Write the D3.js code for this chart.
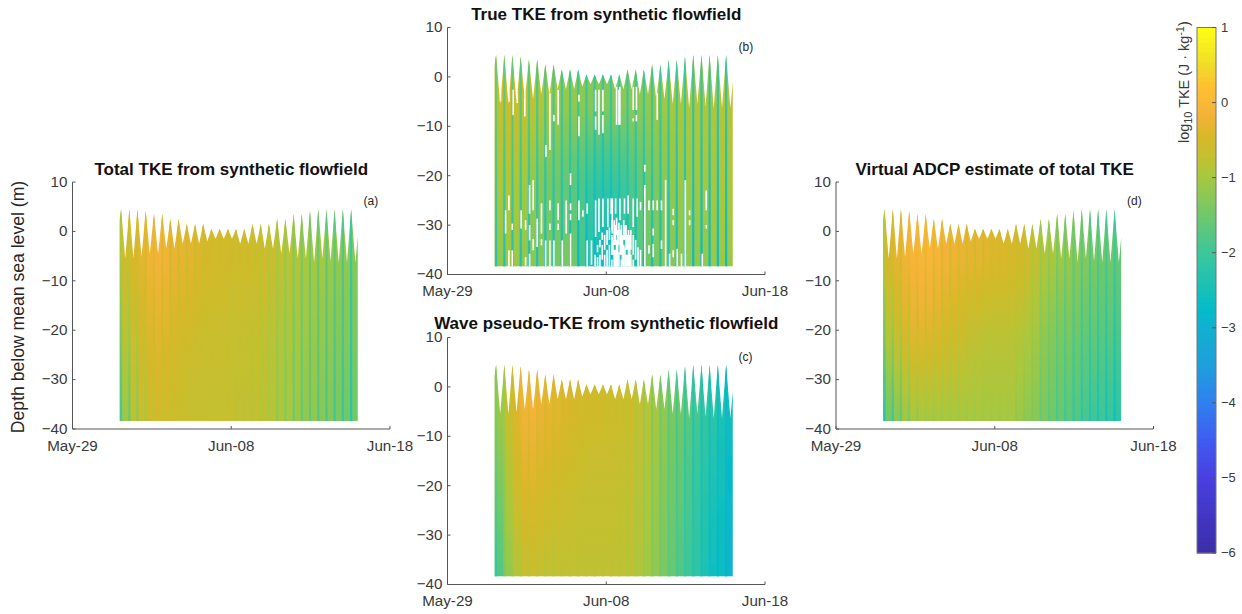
<!DOCTYPE html>
<html lang="en">
<head>
<meta charset="utf-8">
<title>TKE from synthetic flowfield</title>
<script src="https://d3js.org/d3.v7.min.js"></script>
<style type="text/css">
	body { margin: 0; background: #fff; }
	text { font-family: "Liberation Sans", Arial, sans-serif; fill: #262626; }
	.title { font-weight: bold; font-size: 17px; fill: #111; text-anchor: middle; }
	.tag { font-size: 12px; }
	.axis text { font-family: "Liberation Sans", Arial, sans-serif; font-size: 15.2px; fill: #3a3a3a; }
	.axis path, .axis line { stroke: #555; stroke-width: 1; }
	.cbar text { font-size: 12.5px; fill: #3a3a3a; }
</style>
</head>
<body>
<script type="text/javascript">
// days after May-29
var xTickDays = [0, 10, 20];
var xTickLabels = ["May-29", "Jun-08", "Jun-18"];
var yTicks = [10, 0, -10, -20, -30, -40];
var cbarTicks = [1, 0, -1, -2, -3, -4, -5, -6];

// tide: high water times, the elevation at high and low water
var startDay = 2.95, endDay = 17.97, startLevel = 2, endLevel = -1, floorDepth = -38.4, lastLowDay = 17.82;
var highDays = [3.06,3.58,4.09,4.61,5.13,5.65,6.16,6.68,7.20,7.72,8.23,8.75,9.27,9.79,10.30,10.82,11.34,11.86,12.37,12.89,13.41,13.93,14.44,14.96,15.48,16.00,16.51,17.03,17.55];
var highLevels = [4.5,4.5,4.5,4.2,3.5,3.5,2.5,2.5,1.5,1.5,1.5,0.5,0.5,0.5,0.5,0.5,1.5,1.5,1.5,2.5,2.5,3.5,3.5,4.2,4.5,4.5,4.5,4.5,4.5];
var lowLevels = [-5.5,-5.5,-5.2,-4.6,-4.5,-3.5,-3.5,-2.5,-2.5,-2.5,-2,-1.5,-1.5,-1.5,-2.5,-2.5,-2.5,-3.5,-3.5,-4.5,-4.5,-5.5,-5.5,-6.3,-5.5,-6,-6.3,-6.3,-6.3];

// log10 TKE: the wide strip after each high water at -5, -20 and the floor
var aWideTop = [-.6,-.4,-.3,-.2,-.15,-.2,-.25,-.3,-.35,-.4,-.45,-.5,-.5,-.55,-.55,-.55,-.6,-.6,-.65,-.75,-.8,-.9,-.95,-1,-1,-1.1,-1.2,-1.2,-1.3];
var aWideMid = [-.8,-.6,-.5,-.4,-.35,-.4,-.45,-.5,-.55,-.6,-.65,-.65,-.65,-.7,-.7,-.7,-.7,-.75,-.8,-.9,-.95,-1,-1.05,-1.1,-1.15,-1.2,-1.3,-1.3,-1.4];
var aWideBot = [-1.1,-.8,-.7,-.55,-.5,-.55,-.6,-.65,-.7,-.7,-.7,-.7,-.7,-.7,-.75,-.75,-.75,-.8,-.85,-.95,-1,-1.1,-1.2,-1.2,-1.3,-1.3,-1.4,-1.5,-1.5];
// and the narrow strip at high water, at -5 and the floor
var aPeakTop = [-.9,-.7,-.6,-.4,-.3,-.35,-.45,-.5,-.55,-.55,-.6,-.6,-.6,-.65,-.65,-.65,-.7,-.75,-.85,-1,-1.1,-1.3,-1.4,-1.5,-1.6,-1.7,-1.7,-1.8,-2];
var aPeakBot = [-1.9,-1.6,-1.3,-1,-.8,-.75,-.75,-.75,-.75,-.75,-.75,-.75,-.75,-.75,-.8,-.8,-.85,-.9,-1,-1.2,-1.3,-1.5,-1.6,-1.7,-1.8,-1.9,-2,-2.1,-2.2];

var bWideTop = [-.7,-.65,-.65,-.7,-.75,-.85,-.9,-1,-1.1,-1.15,-1.2,-1.25,-1.3,-1.3,-1.25,-1.2,-1.2,-1.2,-1.15,-1.1,-1.05,-1,-1,-.95,-.9,-.9,-.9,-.85,-.85];
var bWideMid = [-.9,-.9,-.95,-1.05,-1.2,-1.35,-1.45,-1.55,-1.65,-1.75,-1.85,-2,-2.1,-2.1,-2,-1.95,-1.8,-1.65,-1.5,-1.4,-1.3,-1.2,-1.1,-1.05,-1.05,-1,-1,-.95,-.95];
var bWideBot = [-1.2,-1.1,-1.1,-1.2,-1.3,-1.3,-1.4,-1.4,-1.4,-1.5,-1.9,-2.3,-2.5,-2.6,-2.5,-2.2,-1.9,-1.7,-1.5,-1.4,-1.3,-1.3,-1.25,-1.2,-1.2,-1.2,-1.1,-1.1,-1.1];
var bPeakTop = [-1.5,-1.6,-1.6,-1.7,-1.7,-1.8,-1.9,-1.9,-2,-2,-2,-2,-2.1,-2.1,-2,-2,-2,-2,-2,-2,-2,-2,-2,-2,-2.1,-2.1,-2.1,-2.1,-2.1];
var bPeakBot = [-2.3,-2.4,-2.4,-2.4,-2.4,-2.4,-2.5,-2.5,-2.5,-2.6,-2.8,-2.9,-2.9,-2.9,-2.9,-2.8,-2.7,-2.6,-2.6,-2.5,-2.5,-2.5,-2.5,-2.5,-2.7,-2.7,-2.7,-2.7,-2.6];

var cWideTop = [-1.1,-.7,-.4,-.2,-.15,-.25,-.3,-.35,-.4,-.45,-.5,-.55,-.55,-.6,-.6,-.6,-.6,-.7,-.85,-1,-1.2,-1.4,-1.5,-1.7,-1.9,-2.1,-2.2,-2.4,-2.6];
var cWideMid = [-1.4,-.9,-.6,-.4,-.4,-.45,-.5,-.55,-.6,-.65,-.7,-.7,-.7,-.7,-.7,-.7,-.7,-.8,-.95,-1.1,-1.3,-1.5,-1.65,-1.85,-2.05,-2.25,-2.4,-2.55,-2.8];
var cWideBot = [-1.8,-1.2,-.9,-.7,-.65,-.7,-.75,-.75,-.75,-.75,-.75,-.75,-.75,-.75,-.75,-.75,-.8,-.9,-1.05,-1.2,-1.4,-1.6,-1.8,-2,-2.2,-2.4,-2.6,-2.7,-2.9];
var cPeakTop = [-1.3,-1,-.6,-.3,-.3,-.35,-.4,-.45,-.5,-.55,-.6,-.6,-.6,-.6,-.65,-.7,-.75,-.9,-1.1,-1.3,-1.5,-1.7,-1.9,-2.1,-2.3,-2.4,-2.5,-2.6,-2.8];
var cPeakBot = [-2.1,-1.4,-1.1,-.9,-.8,-.8,-.85,-.85,-.8,-.8,-.8,-.8,-.8,-.8,-.8,-.85,-.9,-1,-1.1,-1.3,-1.5,-1.7,-1.9,-2.1,-2.3,-2.5,-2.7,-2.8,-3];

var dWideTop = [-.5,-.3,-.2,-.1,-.05,-.05,-.1,-.15,-.2,-.25,-.3,-.3,-.35,-.4,-.4,-.45,-.5,-.6,-.7,-.85,-.95,-1.05,-1.15,-1.25,-1.3,-1.4,-1.5,-1.5,-1.6];
var dWideMid = [-.8,-.6,-.4,-.3,-.3,-.35,-.4,-.5,-.55,-.6,-.7,-.75,-.8,-.8,-.8,-.8,-.85,-.9,-1,-1.2,-1.3,-1.4,-1.4,-1.5,-1.6,-1.6,-1.7,-1.7,-1.8];
var dWideBot = [-1.5,-1.3,-1.1,-1,-1,-1,-1,-1,-1,-1,-1,-1,-1,-1,-1,-1,-1.1,-1.2,-1.3,-1.4,-1.5,-1.6,-1.7,-1.8,-1.9,-2,-2,-2.1,-2.2];
var dPeakTop = [-.8,-.5,-.4,-.2,-.15,-.2,-.3,-.35,-.4,-.4,-.45,-.5,-.5,-.5,-.5,-.55,-.6,-.7,-.9,-1.1,-1.2,-1.4,-1.5,-1.6,-1.7,-1.8,-1.8,-1.9,-2];
var dPeakBot = [-2.3,-2,-1.7,-1.4,-1.2,-1.1,-1.1,-1.1,-1.1,-1.1,-1.1,-1.1,-1.1,-1.1,-1.1,-1.1,-1.2,-1.3,-1.4,-1.6,-1.7,-1.9,-2,-2.1,-2.2,-2.3,-2.4,-2.5,-2.6];

// missing data in panel b: [day, upper depth, lower depth]
var bGaps = [
	[3.34,-2.6,-5],[3.87,-2.6,-5],[4.14,-2.6,-7.7],[4.39,-2.6,-5.3],[4.87,-2.6,-8],
	[6.45,-3.3,-14.8],[6.2,-13.8,-16.2],[6.7,-7.7,-9],[6.97,-2.6,-9.7],[8.28,-3.6,-5],[8.28,-8,-12],
	[9.33,-2.6,-7],[9.33,-8,-10.7],[9.54,-2.6,-11.7],[9.79,-2.6,-7],[9.79,-7.7,-11.4],[10.8,-2.6,-9.7],
	[10.65,-2,-9.7],[10.86,-2,-9.7],[11.7,-2,-6.7],[11.7,-8.4,-9],[11.9,-2,-6.7],[11.9,-7.7,-9],[12.43,-17.8,-19.2],[13.21,-3.3,-8.7],
	[3.87,-24,-27],[3.66,-27,-31.7],[4.08,-29.7,-31],[3.87,-35.1,-38.5],[4.08,-35.1,-38.5],[4.64,-27,-30.7],[4.92,-29,-31],[4.92,-36.5,-38.2],
	[5.17,-21.9,-27.7],[5.17,-30,-33.1],[5.17,-35.8,-38.5],[5.40,-20.9,-27],[5.40,-32.8,-35.1],[5.65,-28.7,-32.8],[5.65,-32.8,-34.4],
	[5.92,-25.6,-31.7],[5.92,-32.8,-34.1],[6.18,-33.1,-38.5],[6.45,-25,-27],[6.45,-29.7,-31],[6.45,-33.1,-38.5],[6.70,-33.1,-38.5],
	[6.97,-25.6,-29],[6.97,-29.7,-31],[7.23,-33.1,-38.5],[7.48,-25,-31.7],[7.75,-19.5,-21.9],[7.75,-25.6,-27],[7.75,-27.7,-29],[7.75,-31.7,-38.5],
	[8.28,-25,-29],[8.53,-27,-28.3],[8.80,-25.6,-27.7],[8.80,-33.1,-38.5],[9.07,-33.1,-38],
	[9.33,-25,-32.4],[9.54,-24.6,-31.4],[9.79,-24.6,-30.4],[10.1,-24.6,-30.4],[10.31,-24.6,-27.7],[10.59,-24.6,-27.7],
	[10.38,-24.6,-31.7],[10.38,-32.4,-35.1],[10.86,-24.6,-29],[11.15,-24.6,-27.7],[11.38,-24,-27.7],[11.7,-24.6,-30.4],[11.95,-24.6,-28.3],[12.16,-25.3,-27],
	[12.43,-21.9,-38.5],[12.69,-25,-27],[12.69,-34.1,-35.8],[12.96,-25,-27],[12.96,-30.7,-32.1],[12.96,-33.8,-36.5],[13.21,-25,-27],[13.48,-25,-27],[13.48,-33.1,-34.8],
	[13.74,-20.9,-38.5],[13.99,-35.8,-38.5],[14.22,-26.7,-28],[14.22,-29,-30],[14.22,-35.1,-36.5],[14.47,-34.8,-38.5],[14.74,-35.8,-38.5],
	[14.98,-20.9,-38.5],[15.25,-27,-28],[15.25,-29,-30],[16.05,-35.8,-38.5],[16.3,-23,-27],[16.3,-30,-30.7],
	[9.3,-36,-38.5],[9.45,-34,-35.5],[9.45,-36.5,-38.5],[9.6,-33,-34.5],[9.6,-36,-38.5],[9.75,-31.5,-33],[9.75,-34,-37],[9.9,-32,-35],[9.9,-36,-38.5],
	[10.05,-31,-34],[10.05,-35,-38.5],[10.2,-30.5,-33],[10.2,-34,-38.5],[10.35,-29,-31],[10.35,-32,-36],[10.35,-37,-38.5],[10.5,-29,-34],[10.5,-35,-38.5],
	[10.65,-28.5,-32],[10.65,-33,-38.5],[10.8,-29.5,-34],[10.8,-35.5,-38.5],[10.95,-30,-36],[10.95,-37,-38.5],[11.1,-29,-33],[11.1,-34,-38.5],
	[11.25,-30,-35],[11.25,-36,-38.5],[11.4,-31,-38.5],[11.55,-31,-35],[11.55,-36,-38.5],[11.7,-32,-36],[11.7,-37,-38.5],[11.85,-33,-37],[12,-34.5,-38.5],[12.16,-35,-38.5],
	[10.42,-33,-36],[10.58,-30,-34],[10.58,-35,-38.5],[10.72,-31,-38.5],[10.88,-31,-36],[11.02,-32,-38.5],[11.18,-30,-33],[11.18,-34.5,-38.5],[11.32,-32,-35],[11.32,-36,-38.5],[11.48,-32,-38.5]
];

// colormap stops
var cmapValues = [-6, -5, -4.5, -4, -3.5, -3, -2.75, -2, -1.5, -1, -0.7, -0.45, -0.15, 0.2, 0.5, 1];
var cmapColors = ["#3a2ea8", "#4a3fe0", "#3f5cf0", "#2f80f0", "#1f9fdc", "#10b0d0", "#04bcc8", "#3cc79a", "#70c86a", "#a6c840", "#c6bf2e", "#d8b72a", "#f5b338", "#fec030", "#f0dc28", "#fffe14"];

var color = d3.scaleLinear().domain(cmapValues).range(cmapColors).clamp(true);

var panelW = 317.5, panelH = 247;
var panels = [
	{id: "a", title: "Total TKE from synthetic flowfield", left: 72.5, top: 182, titleY: 175, wide: [aWideTop, aWideMid, aWideBot], peak: [aPeakTop, aPeakBot], gaps: []},
	{id: "b", title: "True TKE from synthetic flowfield", left: 447.5, top: 27.5, titleY: 20, wide: [bWideTop, bWideMid, bWideBot], peak: [bPeakTop, bPeakBot], gaps: bGaps},
	{id: "c", title: "Wave pseudo-TKE from synthetic flowfield", left: 447.5, top: 337.5, titleY: 329, wide: [cWideTop, cWideMid, cWideBot], peak: [cPeakTop, cPeakBot], gaps: []},
	{id: "d", title: "Virtual ADCP estimate of total TKE", left: 836, top: 182, titleY: 175, wide: [dWideTop, dWideMid, dWideBot], peak: [dPeakTop, dPeakBot], gaps: []}
];

var svg = d3.select("body").append("svg").attr("width", 1242).attr("height", 614);
var defs = svg.append("defs");

defs.append("filter").attr("id", "soft")
	.attr("filterUnits", "userSpaceOnUse")
	.attr("x", 0).attr("y", 0).attr("width", 1242).attr("height", 614)
	.append("feGaussianBlur").attr("stdDeviation", 0.7);

var x = d3.scaleLinear().domain([0, 20]).range([0, panelW]);
var y = d3.scaleLinear().domain([-40, 10]).range([panelH, 0]);

// outline of the water column: the surface goes up and down with the tide
var surface = [{d: startDay, v: startLevel}];
highDays.forEach(function(d, i) {
	surface.push({d: d, v: highLevels[i]});
	surface.push({d: i < highDays.length - 1 ? (d + highDays[i + 1]) / 2 : lastLowDay, v: lowLevels[i]});
});
surface.push({d: endDay, v: endLevel});

var area = d3.area()
	.x(function(p) { return x(p.d); })
	.y0(y(floorDepth))
	.y1(function(p) { return y(p.v); });

var wideEdges = [startDay].concat(highDays.slice(1), [endDay]);

function addGradient(id, depths, values) {
	var pick = d3.scaleLinear().domain(depths).range(values).clamp(true);
	var depthScale = d3.scaleLinear().domain([0, 8]).range([5, floorDepth]);
	var grad = defs.append("linearGradient")
		.attr("id", id)
		.attr("gradientUnits", "userSpaceOnUse")
		.attr("x1", 0).attr("x2", 0)
		.attr("y1", y(5)).attr("y2", y(floorDepth));
	d3.range(9).forEach(function(i) {
		grad.append("stop")
			.attr("offset", i / 8)
			.attr("stop-color", color(pick(depthScale(i))));
	});
}

panels.forEach(function(p) {
	var g = svg.append("g").attr("transform", "translate(" + p.left + "," + p.top + ")");

	defs.append("clipPath").attr("id", "water-" + p.id)
		.append("path").attr("d", area(surface));

	var marks = g.append("g").attr("filter", "url(#soft)")
		.append("g").attr("clip-path", "url(#water-" + p.id + ")");

	// wide strips
	marks.selectAll("rect.wide")
		.data(highDays)
		.enter()
		.append("rect")
		.attr("class", "wide")
		.attr("x", function(d, i) { return x(wideEdges[i]); })
		.attr("width", function(d, i) { return x(wideEdges[i + 1]) - x(wideEdges[i]) + 0.3; })
		.attr("y", y(10))
		.attr("height", y(floorDepth) - y(10))
		.attr("fill", function(d, i) {
			var id = "w" + p.id + i;
			addGradient(id, [-5, -20, -38.4], [p.wide[0][i], p.wide[1][i], p.wide[2][i]]);
			return "url(#" + id + ")";
		});

	// narrow strips at high water
	marks.selectAll("rect.peak")
		.data(highDays)
		.enter()
		.append("rect")
		.attr("class", "peak")
		.attr("x", function(d) { return x(d) - 1.1; })
		.attr("width", 2.2)
		.attr("y", y(10))
		.attr("height", y(floorDepth) - y(10))
		.attr("fill", function(d, i) {
			var id = "p" + p.id + i;
			addGradient(id, [-5, -38.4], [p.peak[0][i], p.peak[1][i]]);
			return "url(#" + id + ")";
		});

	// white slits where panel b has no data
	marks.selectAll("rect.gap")
		.data(p.gaps)
		.enter()
		.append("rect")
		.attr("class", "gap")
		.attr("x", function(d) { return x(d[0]) - 0.8; })
		.attr("width", 1.6)
		.attr("y", function(d) { return y(d[1]); })
		.attr("height", function(d) { return y(d[2]) - y(d[1]); })
		.attr("fill", "#fff");

	// axes
	g.append("g").attr("class", "axis")
		.attr("transform", "translate(0," + panelH + ")")
		.call(d3.axisBottom(x)
			.tickValues(xTickDays)
			.tickFormat(function(d, i) { return xTickLabels[i]; })
			.tickSizeInner(-3).tickSizeOuter(0).tickPadding(11).offset(0));

	g.append("g").attr("class", "axis")
		.call(d3.axisLeft(y)
			.tickValues(yTicks)
			.tickSizeInner(-3).tickSizeOuter(0).tickPadding(5).offset(0));

	svg.append("text").attr("class", "title")
		.attr("x", p.left + x(10))
		.attr("y", p.titleY)
		.text(p.title);

	svg.append("text").attr("class", "tag")
		.attr("x", p.left + 291)
		.attr("y", p.top + 23)
		.text("(" + p.id + ")");
});

svg.append("text")
	.attr("transform", "translate(24,307) rotate(-90)")
	.attr("text-anchor", "middle")
	.attr("font-size", 17.6)
	.attr("fill", "#3a3a3a")
	.text("Depth below mean sea level (m)");

// colorbar
var cbarX = 1197, cbarW = 19;
var cbarY = d3.scaleLinear().domain([-6, 1]).range([553, 27.5]);
var cbarSteps = d3.range(0, 105);
var cbar = svg.append("g").attr("class", "cbar");

cbar.selectAll("rect")
	.data(cbarSteps)
	.enter()
	.append("rect")
	.attr("x", cbarX)
	.attr("width", cbarW)
	.attr("y", function(i) { return cbarY(1 - i * 7 / 105); })
	.attr("height", (553 - 27.5) / 105 + 0.5)
	.attr("fill", function(i) { return color(1 - (i + 0.5) * 7 / 105); });

cbar.append("rect")
	.attr("x", cbarX).attr("y", 27.5)
	.attr("width", cbarW).attr("height", 553 - 27.5)
	.attr("fill", "none").attr("stroke", "#777");

var cbarAxis = cbar.append("g")
	.attr("class", "axis")
	.attr("transform", "translate(" + (cbarX + cbarW) + ",0)")
	.call(d3.axisRight(cbarY).tickValues(cbarTicks).tickFormat(d3.format("d")).tickSizeInner(-4).tickSizeOuter(0).tickPadding(5).offset(0));
cbarAxis.select(".domain").remove();
cbarAxis.selectAll("text").style("font-size", "13px");

var cbarLabel = cbar.append("text")
	.attr("transform", "translate(1189,143) rotate(-90)")
	.attr("style", "font-size:14.4px");
cbarLabel.append("tspan").text("log");
cbarLabel.append("tspan").attr("dy", 3).attr("style", "font-size:11px").text("10");
cbarLabel.append("tspan").attr("dy", -3).text(" TKE (J \u00B7 kg");
cbarLabel.append("tspan").attr("dy", -5).attr("style", "font-size:11px").text("-1");
cbarLabel.append("tspan").attr("dy", 5).text(")");
</script>
</body>
</html>
